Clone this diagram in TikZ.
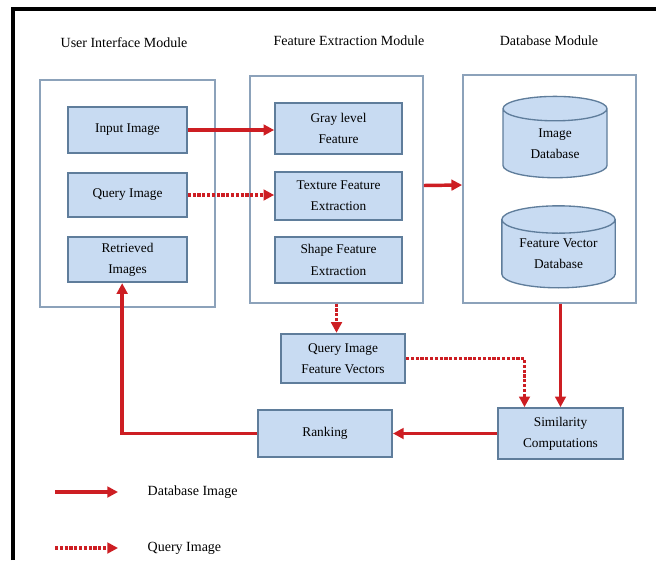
\documentclass[tikz,border=0pt]{standalone}
\usepackage{fontspec}
\setmainfont{Liberation Serif}
\usepackage{tikz}
\usetikzlibrary{shapes.geometric, arrows.meta}

\definecolor{boxfill}{RGB}{200,219,242}
\definecolor{boxline}{RGB}{95,125,155}
\definecolor{modline}{RGB}{140,162,186}
\definecolor{flowred}{RGB}{205,30,35}

\tikzset{
    module/.style={draw=modline, line width=1.1pt, inner sep=0pt},
    block/.style={draw=boxline, line width=1.5pt, fill=boxfill, align=center,
        inner sep=0pt, font=\fontsize{10}{16}\selectfont},
    dbase/.style={cylinder, shape border rotate=90, aspect=0.5, draw=boxline,
        line width=1pt, fill=boxfill, align=center, inner sep=0pt,
        font=\fontsize{10}{16}\selectfont},
    title/.style={font=\fontsize{10.5}{12}\selectfont},
    dbflow/.style={draw=flowred, line width=2.6pt, -{Triangle[length=8pt, width=8pt]}},
    qflow/.style={dbflow, dash pattern=on 2.4pt off 1.2pt},
}

\begin{document}
\begin{tikzpicture}[x=0.75pt, y=-0.75pt]
    \useasboundingbox (0, 0) rectangle (656, 560);
    \draw[line width=2.4pt] (13, 560) -- (13, 9) -- (656, 9);

    % module titles
    \node[title] (uititle) at (124, 43) {User Interface Module};
    \node[title] (fetitle) at (349, 41) {Feature Extraction Module};
    \node[title] (dbtitle) at (549, 41) {Database Module};

    % module frames
    \node[module, minimum width=131pt, minimum height=170pt] (uimod) at (127.5, 193.5) {};
    \node[module, minimum width=130pt, minimum height=170pt] (femod) at (336.5, 189.5) {};
    \node[module, minimum width=130pt, minimum height=171pt] (dbmod) at (549.5, 189) {};

    % user interface
    \node[block, minimum width=89pt, minimum height=34.5pt] (input) at (127.5, 130) {Input Image};
    \node[block, minimum width=89pt, minimum height=33pt] (query) at (127.5, 195) {Query Image};
    \node[block, minimum width=89pt, minimum height=34pt] (retrieved) at (127.5, 259.5) {Retrieved\\Images};

    % feature extraction
    \node[block, minimum width=95pt, minimum height=38pt] (gray) at (338.5, 128.5) {Gray level\\Feature};
    \node[block, minimum width=95pt, minimum height=36pt] (texture) at (338.5, 196) {Texture Feature\\Extraction};
    \node[block, minimum width=95pt, minimum height=34.5pt] (shape) at (338.5, 260) {Shape Feature\\Extraction};

    % database
    \node[dbase, minimum width=78pt, minimum height=61pt] (imagedb) at (555, 143.5) {Image\\Database};
    \node[dbase, aspect=0.35, minimum width=85pt, minimum height=61.5pt] (vectordb) at (558.5, 254) {Feature Vector\\Database};

    % matching
    \node[block, minimum width=93pt, minimum height=37pt] (qvector) at (343, 358.5) {Query Image\\Feature Vectors};
    \node[block, minimum width=100.5pt, minimum height=35pt] (ranking) at (325, 433.5) {Ranking};
    \node[block, minimum width=94pt, minimum height=38pt] (similarity) at (560.5, 433.5) {Similarity\\Computations};

    % flows
    \draw[dbflow] (input.east) -- (input.east -| gray.west);
    \draw[qflow] (query.east) -- (query.east -| texture.west);
    \draw[dbflow] ([yshift=3pt]femod.east) -- ([yshift=3pt]dbmod.west);
    \draw[qflow] (femod.south) -- (femod.south |- qvector.north);
    \draw[dbflow] (dbmod.south -| similarity.north) -- (similarity.north);
    \draw[qflow] (qvector.east) -| ([xshift=-27pt]similarity.north);
    \draw[dbflow] (similarity.west) -- (ranking.east);
    \draw[dbflow] (ranking.west) -| ([xshift=-4pt]retrieved.south);

    % legend
    \coordinate (solidA) at (55, 492);
    \coordinate (solidB) at (118, 492);
    \coordinate (dotA) at (55, 548);
    \coordinate (dotB) at (118, 548);
    \draw[dbflow] (solidA) -- (solidB);
    \draw[qflow] (dotA) -- (dotB);
    \node[title, anchor=west] (solidtext) at (143, 492) {Database Image};
    \node[title, anchor=west] (dottext) at (143, 548) {Query Image};
\end{tikzpicture}
\end{document}
